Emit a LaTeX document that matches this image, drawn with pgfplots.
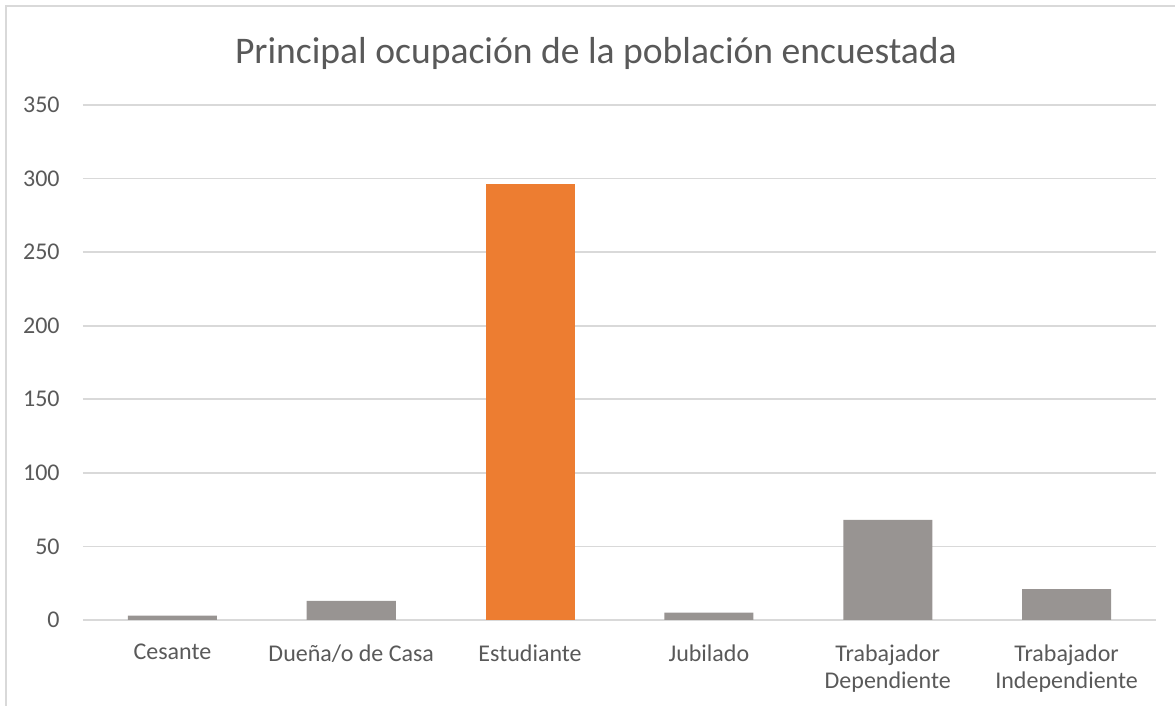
\documentclass[border=0pt]{standalone}
\usepackage{pgfplots}
\pgfplotsset{compat=1.18}
\usepackage{fontspec}
\setmainfont{Carlito}

\definecolor{txt}{HTML}{595959}
\definecolor{gridc}{HTML}{D9D9D9}
\definecolor{barg}{HTML}{989492}
\definecolor{baro}{HTML}{ED7D31}

\begin{document}
\begin{tikzpicture}[x=1pt,y=1pt]
\useasboundingbox (0,0) rectangle (587.5,353);
% chart frame (only top and left edges are visible)
\draw[gridc, line width=1pt] (3,0) -- (3,350) -- (587.5,350);
\node[txt, anchor=base, font=\fontsize{18.8}{22}\selectfont] at (298,321)
  {Principal ocupación de la población encuestada};

\begin{axis}[
	at={(41.5pt,43pt)}, anchor=south west,
	scale only axis,
	width=536.5pt, height=257.5pt,
	xmin=-0.5, xmax=5.5,
	ymin=0, ymax=350,
	ytick={0,50,...,350},
	xtick={0,...,5},
	xticklabels={Cesante, Dueña/o de Casa, Estudiante, Jubilado,
		Trabajador\\Dependiente, Trabajador\\Independiente},
	ymajorgrids,
	grid style={gridc, line width=0.9pt},
	axis line style={draw=none},
	major tick length=0pt,
	/pgf/number format/assume math mode=true,
	ticklabel style={text=txt, font=\fontsize{12}{13.5}\selectfont},
	yticklabel style={inner sep=0pt, anchor=east, xshift=-11.5pt},
	xticklabel style={inner sep=0pt, anchor=north, yshift=-12pt, align=center},
]
\addplot[ybar, bar shift=0pt, bar width=44.5pt, fill=barg, draw=none]
	coordinates {(0,3) (1,13) (3,5) (4,68) (5,21)};
\addplot[ybar, bar shift=0pt, bar width=44.5pt, fill=baro, draw=none]
	coordinates {(2,296)};
\end{axis}
\end{tikzpicture}
\end{document}
